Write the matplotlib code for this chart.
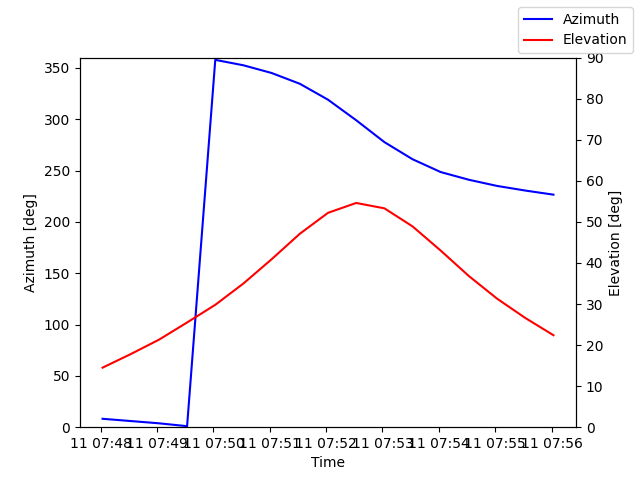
import numpy as np
import pandas as pd
import matplotlib
matplotlib.use('Agg')
import matplotlib.pyplot as plt

# Satellite pass, sampled every 30 s
times = pd.date_range('2023-05-11 07:48:02', periods=17, freq='30s')

azimuth = [8.2, 6.0, 3.8, 1.0, 357.8, 352.5, 345.0, 334.5, 319.0, 299.0,
           277.7, 261.0, 248.5, 241.0, 235.0, 230.5, 226.5]

elevation = [14.5, 17.8, 21.3, 25.5, 29.8, 35.0, 40.9, 47.1, 52.2, 54.6,
             53.3, 48.9, 43.0, 36.8, 31.3, 26.6, 22.4]

fig, ax1 = plt.subplots()

ax1.plot(times, azimuth, color='b', label='Azimuth')
ax1.set_xlabel('Time')
ax1.set_ylabel('Azimuth [deg]')
ax1.set_ylim(0, 360)

ax2 = ax1.twinx()
ax2.plot(times, elevation, color='r', label='Elevation')
ax2.set_ylabel('Elevation [deg]')
ax2.set_ylim(0, 90)

fig.legend(loc='upper right')

plt.savefig('out.png')
